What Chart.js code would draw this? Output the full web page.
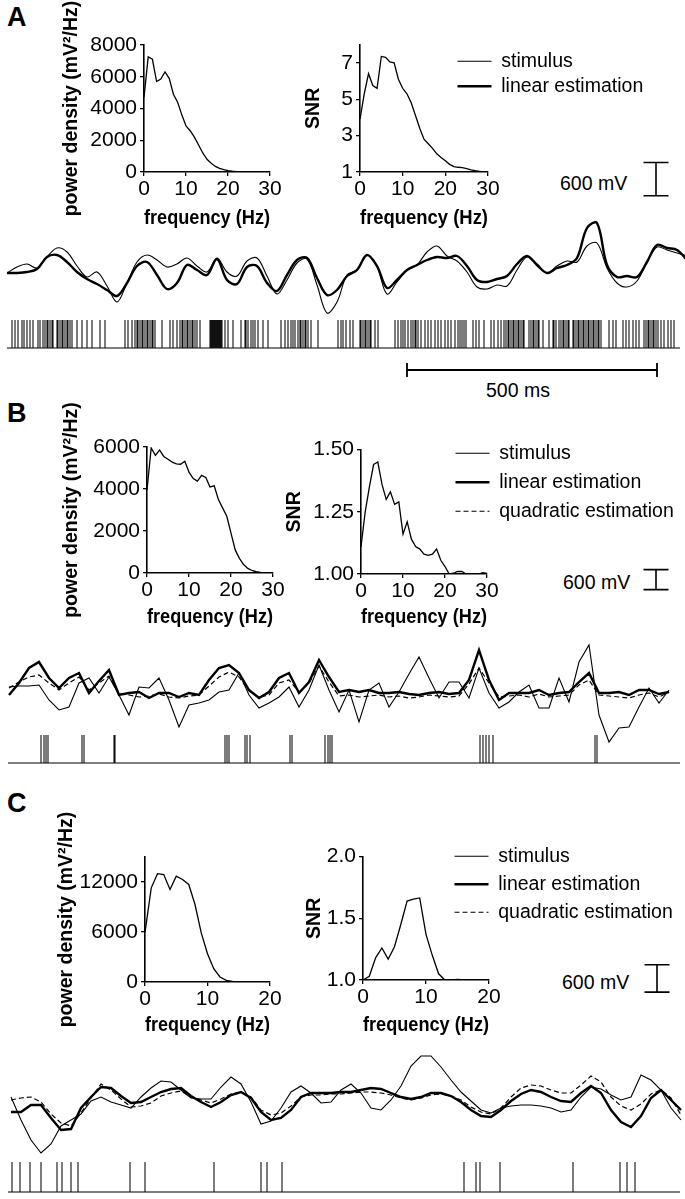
<!DOCTYPE html>
<html>
<head>
<meta charset="utf-8">
<script src="https://cdn.jsdelivr.net/npm/chart.js@4.4.1/dist/chart.umd.min.js"></script>
<style>
  html, body { margin: 0; padding: 0; background: #fff; }
  #page { position: relative; width: 685px; height: 1199px; overflow: hidden; background: #fff;
          font-family: 'Liberation Sans', Arial, Helvetica, sans-serif; color: #000; }
  canvas { position: absolute; }
  .lbl { position: absolute; white-space: nowrap; line-height: 24px; }
  .panel { font-weight: bold; font-size: 27px; }
  .note { font-size: 19.5px; }
</style>
</head>
<body>
<div id="page">
  <div class="lbl panel" style="left:7px; top:5px;">A</div>
  <div class="lbl panel" style="left:7px; top:401px;">B</div>
  <div class="lbl panel" style="left:7px; top:791px;">C</div>
  <div class="lbl note" style="left:560px; top:171px;">600 mV</div>
  <div class="lbl note" style="left:563px; top:570px;">600 mV</div>
  <div class="lbl note" style="left:562px; top:970px;">600 mV</div>
  <div class="lbl note" style="left:486px; top:378px;">500 ms</div>
</div>
<script>
Chart.defaults.font.family = "'Liberation Sans', Arial, Helvetica, sans-serif";
Chart.defaults.color = '#000';

// ---- spectra (frequency in Hz) ----
const freq30 = [0,1,2,3,4,5,6,7,8,9,10,11,12,13,14,15,16,17,18,19,20,21,22,23,24,25,26,27,28,29,30];
const freq20 = [0,1,2,3,4,5,6,7,8,9,10,11,12,13,14,15,16,17,18,19,20];

const powerA = [4700,7250,7100,5700,5850,6300,5900,4900,4400,3600,2900,2600,2200,1700,1200,800,550,350,230,150,90,50,20,10,0,0,0,0,0,0,0];
const snrA = [3.9,5.3,6.4,5.75,5.6,7.35,7.3,7.05,7.0,6.1,5.6,5.3,4.8,4.1,3.4,2.8,2.55,2.3,2.0,1.8,1.62,1.42,1.3,1.26,1.24,1.18,1.12,1.07,1.04,1.01,1.0];

const powerB = [3950,5950,5600,5850,5550,5420,5280,5200,5180,5320,4800,4500,4380,4650,4550,4100,4150,3500,3100,2700,1900,1100,700,400,220,120,60,30,10,0,0];
const snrB = [1.11,1.25,1.35,1.44,1.45,1.36,1.30,1.33,1.28,1.29,1.16,1.21,1.14,1.11,1.10,1.08,1.075,1.08,1.10,1.055,1.03,1.0,1.003,1.01,1.01,1.0,1.0,1.0,1.0,1.005,1.002];

const powerC = [5950,11300,13000,12900,11100,12700,12300,11700,9300,5900,3400,1600,600,200,60,20,0,0,0,0,0];
const snrC = [1.0,1.03,1.18,1.26,1.17,1.27,1.45,1.64,1.655,1.665,1.37,1.2,1.05,1.0,1.0,1.005,1.0,1.0,1.0,1.0,1.0];

// ---- tick labels ----
const xTicks30 = [0,10,20,30];
const xTicks20 = [0,10,20];
const powerATicks = [0,2000,4000,6000,8000];
const snrATicks = [1,3,5,7];
const powerBTicks = [0,2000,4000,6000];
const snrBTicks = [1.0,1.25,1.5];
const powerCTicks = [0,6000,12000];
const snrCTicks = [1.0,1.5,2.0];

// ---- voltage traces (mV), one sample every 20 ms ----
const sampleMs = 20;
const stimA = [0,108,162,90,288,450,378,126,-72,18,-234,-522,-180,198,324,234,108,162,270,126,18,270,18,-54,216,270,-54,-378,-126,180,252,-216,-720,-522,-36,54,324,108,-378,-162,54,144,378,486,306,216,18,-252,-288,-216,-234,54,288,162,0,126,216,198,486,540,90,-180,-252,-144,198,468,414,360,306];
const linA = [0,0,18,72,288,324,198,18,-108,-198,-306,-414,-180,126,198,-36,-288,-180,144,54,-36,252,-126,-198,108,126,-180,-324,-36,234,270,-90,-396,-306,-54,54,324,126,-270,-126,54,144,234,288,270,306,126,-126,-162,-108,-54,162,306,144,0,90,144,270,810,900,144,-72,-54,-72,198,504,450,414,234];

const stimB = [180,210,210,240,-210,-510,-420,300,450,0,480,-60,-660,180,150,450,-210,-1020,-360,-300,-210,30,90,600,-60,-450,-300,-120,180,-420,90,840,90,-570,90,-870,90,300,-420,30,570,1080,450,-150,330,330,-150,750,0,-450,-270,30,240,-450,-450,450,-270,930,1440,-660,-1470,-1050,-1020,-420,150,-300,90];
const linB = [-60,300,750,930,450,150,450,600,0,360,690,-60,0,30,-150,0,0,-120,0,-60,390,750,840,600,90,-150,30,450,600,0,330,990,480,30,90,30,90,0,0,30,-30,-60,0,30,-30,0,390,1290,390,-210,0,0,0,90,-60,0,30,330,600,0,0,30,-60,90,90,-30,30];
const quadB = [150,330,480,540,300,90,300,480,90,300,510,0,-60,-120,-90,-30,-120,-150,-90,-60,210,480,630,480,60,-120,-60,300,390,30,300,810,330,-90,-60,-120,-90,-60,-120,-90,-150,-120,-60,-90,-120,-90,270,750,300,-120,-90,-60,-120,-30,-120,-90,-60,240,390,-60,-90,-120,-150,-60,0,-120,30];

const stimC = [-88,-594,-1034,-1320,-1122,-726,-594,-462,-176,-88,-198,-264,-330,-88,110,264,242,66,-110,-132,-132,132,352,198,-198,-682,-616,-330,22,154,0,-220,-198,66,198,0,-330,-374,-154,154,594,814,814,572,286,22,-176,-374,-440,-330,-286,-264,-264,-286,-330,-418,-374,-88,132,88,-44,-154,-88,396,286,66,-330,-594];
const linC = [-418,-418,-264,-264,-550,-814,-792,-330,-88,132,110,-66,-220,-198,-88,22,88,110,-66,-198,-308,-198,-44,22,-110,-418,-594,-550,-374,-88,0,0,0,22,22,66,110,88,0,-88,-132,-88,0,0,-66,-198,-374,-506,-528,-374,-176,-22,66,22,-88,-176,-198,0,154,0,-374,-638,-748,-506,-110,66,-154,-374];
const quadC = [-154,-110,-88,-198,-462,-660,-726,-440,-110,198,66,-132,-308,-286,-220,-66,0,44,-88,-154,-220,-132,-22,22,-88,-374,-484,-440,-286,-88,-44,-44,-22,-22,0,22,22,0,-44,-110,-154,-110,-44,-22,-66,-154,-308,-418,-462,-330,-88,110,176,154,66,0,0,176,374,242,-88,-286,-374,-242,-22,66,-110,-484];

// ---- spike times (ms) ----
const spikesA = [10,16,22,30,34,40,46,52,62,66,72,76,80,82,86,90,92,100,102,106,110,112,116,120,122,126,130,140,150,160,170,186,196,
  236,242,250,256,260,262,266,270,272,276,280,282,286,290,292,296,310,
  326,332,340,346,350,352,356,360,362,366,370,372,376,380,386,
  406,408,410,412,414,416,418,420,422,424,426,428,430,436,442,
  452,468,476,478,482,488,492,496,502,512,522,
  548,556,562,568,572,576,582,586,588,592,596,598,602,608,622,
  662,668,672,678,686,692,706,708,712,716,718,722,726,728,736,742,
  776,782,788,792,796,802,808,812,816,818,822,828,836,842,848,856,862,868,876,882,888,896,902,906,910,914,918,
  932,938,944,954,
  968,974,982,988,994,998,1002,1004,1008,1012,1014,1018,1022,1024,1028,1032,1034,
  1044,1048,1052,1054,1058,1062,1064,1072,
  1084,1092,1094,1098,1104,1108,1112,1114,1118,1122,1124,
  1132,1134,1138,1142,1144,1148,1152,1154,1158,1162,1164,1168,1172,1174,1178,1182,1184,1188,
  1204,1212,1218,1232,1238,1244,1252,1258,1264,
  1274,1278,1282,1284,1288,1292,1294,1298,1302,1308,1314,1322,1328,1334];
const spikesB = [64,70,74,78,146,150,210,212,432,436,440,472,476,482,562,566,632,638,642,646,942,948,954,960,968,1172,1176];
const spikesC = [2,18,38,60,92,102,120,134,238,268,406,500,512,542,906,930,938,978,1124,1218,1232,1248];

// ---- scale bars ----
const scaleBarMv = 600;
const scaleBarMs = 500;

// ---------------------------------------------------------------
const page = document.getElementById('page');
const msPerPx = 2;

function canvasAt(left, top, right, bottom) {
  const c = document.createElement('canvas');
  c.width = right - left; c.height = bottom - top;
  c.style.left = left + 'px'; c.style.top = top + 'px';
  c.style.width = c.width + 'px'; c.style.height = c.height + 'px';
  page.appendChild(c);
  return c.getContext('2d');
}

function spectrumChart(g, freqs, values, yTitle, xTickVals, yTickVals, yMax, yFmt) {
  const right = g.R + 16;
  const ctx = canvasAt(g.left, g.top, right, g.bottom);
  const axis = (tickVals, fmt, title, pad) => ({
    type: 'linear',
    afterBuildTicks: s => { s.ticks = tickVals.map(v => ({ value: v })); },
    grid: { display: true, drawOnChartArea: false, drawTicks: true, tickLength: 4, color: '#000', lineWidth: 1.3 },
    border: { display: true, color: '#000', width: 1.6 },
    ticks: { color: '#000', font: { size: 21 }, padding: pad, autoSkip: false, maxRotation: 0, callback: fmt },
    title: { display: true, text: title, color: '#000', font: { size: 19.5, weight: 'bold' }, padding: { top: 4, bottom: 4 } }
  });
  const x = axis(xTickVals, v => String(v), 'frequency (Hz)', 1);
  x.min = xTickVals[0]; x.max = xTickVals[xTickVals.length - 1];
  x.afterFit = s => { s.height = g.bottom - g.B; };
  const y = axis(yTickVals, yFmt, yTitle, 3);
  y.min = yTickVals[0]; y.max = yMax;
  y.afterFit = s => { s.width = g.L - g.left; };
  new Chart(ctx, {
    type: 'line',
    data: { datasets: [{ data: freqs.map((f, i) => ({ x: f, y: values[i] })), borderColor: '#000', borderWidth: 1.3, pointRadius: 0, tension: 0, fill: false }] },
    options: {
      responsive: false, animation: false, events: [],
      layout: { padding: { left: 0, top: g.T - g.top, right: right - g.R, bottom: 0 } },
      plugins: { legend: { display: false }, tooltip: { enabled: false } },
      scales: { x, y }
    }
  });
}

function legendChart(left, top, pad, items) {
  const h = Math.round(items.length * (19.5 + pad) + pad);
  const ctx = canvasAt(left, top, 685, top + h);
  new Chart(ctx, {
    type: 'line',
    data: { datasets: items.map(s => ({ label: s.label, data: [], borderColor: '#000', backgroundColor: '#000', borderWidth: s.width, borderDash: s.dash || [] })) },
    options: {
      responsive: false, animation: false, events: [],
      layout: { padding: 0 },
      scales: { x: { display: false }, y: { display: false } },
      plugins: {
        tooltip: { enabled: false },
        legend: { position: 'chartArea', align: 'start',
          labels: { usePointStyle: true, pointStyle: 'line', pointStyleWidth: 34, boxHeight: 2, padding: pad, color: '#000', font: { size: 19.5 },
            generateLabels: chart => Chart.defaults.plugins.legend.labels.generateLabels(chart).map((it, i) =>
              Object.assign(it, { lineDash: chart.data.datasets[i].borderDash, lineWidth: chart.data.datasets[i].borderWidth })) } }
      }
    }
  });
}

function traceChart(p, series) {
  const ctx = canvasAt(0, p.top, 685, p.bottom);
  const datasets = series.map(s => ({
    label: s.label,
    data: s.values.map((v, i) => ({ x: i * sampleMs, y: v })),
    borderColor: '#000', borderWidth: s.width, borderDash: s.dash || [],
    pointRadius: 0, tension: p.tension, fill: false
  }));
  const c = p.barT, lo = p.barLo, hi = p.barLo + scaleBarMv, w = 25;
  datasets.push({
    data: [{x:c-w,y:lo},{x:c+w,y:lo},{x:c,y:null},{x:c,y:lo},{x:c,y:hi},{x:c,y:null},{x:c-w,y:hi},{x:c+w,y:hi}],
    borderColor: '#000', borderWidth: 1.6, pointRadius: 0, spanGaps: false, tension: 0
  });
  new Chart(ctx, {
    type: 'line',
    data: { datasets },
    options: {
      responsive: false, animation: false, events: [],
      layout: { padding: 0 },
      plugins: { legend: { display: false }, tooltip: { enabled: false } },
      scales: {
        x: { type: 'linear', display: false, min: -p.x0 * msPerPx, max: (685 - p.x0) * msPerPx },
        y: { display: false, min: (p.zeroPx - p.bottom) * p.mvPerPx, max: (p.zeroPx - p.top) * p.mvPerPx }
      }
    }
  });
}

function rasterChart(p, spikes) {
  const unit = p.basePx - p.tipPx;
  const ctx = canvasAt(0, p.top, 685, p.bottom);
  // each spike is a vertical stroke from the baseline (0) to 1
  const strokes = [];
  spikes.forEach(t => { strokes.push({ x: t, y: 0 }, { x: t, y: 1 }, { x: t, y: null }); });
  const datasets = [
    { data: strokes, showLine: true, spanGaps: false, borderColor: '#111', borderWidth: 1.1, pointRadius: 0 },
    { data: [{ x: p.baseFrom, y: 0 }, { x: p.baseTo, y: 0 }], showLine: true, borderColor: '#000', borderWidth: 1.2, pointRadius: 0 }
  ];
  if (p.msBar) {
    const lvl = -(p.msBar.px - p.basePx) / unit, cap = p.msBar.cap / unit;
    const a = p.msBar.from, b = p.msBar.from + scaleBarMs;
    datasets.push({ data: [{x:a,y:lvl},{x:b,y:lvl},{x:b,y:null},{x:a,y:lvl-cap},{x:a,y:lvl+cap},{x:a,y:null},{x:b,y:lvl-cap},{x:b,y:lvl+cap}],
      showLine: true, spanGaps: false, borderColor: '#000', borderWidth: 1.8, pointRadius: 0 });
  }
  new Chart(ctx, {
    type: 'scatter',
    data: { datasets },
    options: {
      responsive: false, animation: false, events: [],
      layout: { padding: 0 },
      plugins: { legend: { display: false }, tooltip: { enabled: false } },
      scales: {
        x: { type: 'linear', display: false, min: -p.x0 * msPerPx, max: (685 - p.x0) * msPerPx },
        y: { display: false, min: -(p.bottom - p.basePx) / unit, max: (p.basePx - p.top) / unit }
      }
    }
  });
}

const asInt = v => String(v);
const pdTitle = 'power density (mV\u00B2/Hz)';

// ---- panel A ----
spectrumChart({ L:144, T:45, R:270, B:172, left:56, top:0, bottom:234 }, freq30, powerA, pdTitle, xTicks30, powerATicks, 8000, asInt);
spectrumChart({ L:360, T:43, R:488, B:172, left:298, top:29, bottom:234 }, freq30, snrA, 'SNR', xTicks30, snrATicks, 8, asInt);
legendChart(452, 46, 5.5, [
  { label: 'stimulus', width: 1.1 },
  { label: 'linear estimation', width: 2.6 }
]);
traceChart({ top:150, bottom:325, zeroPx:273, mvPerPx:18, x0:7, tension:0.35, barT:1298, barLo:1390 }, [
  { label: 'stimulus', values: stimA, width: 1.1 },
  { label: 'linear estimation', values: linA, width: 2.4 }
]);
rasterChart({ top:315, bottom:400, basePx:348, tipPx:320, x0:7, baseFrom:0, baseTo:1346,
  msBar: { from: 800, px: 370, cap: 7 } }, spikesA);

// ---- panel B ----
spectrumChart({ L:147, T:447, R:273, B:573, left:56, top:400, bottom:633 }, freq30, powerB, pdTitle, xTicks30, powerBTicks, 6000, asInt);
spectrumChart({ L:361, T:448, R:487, B:574, left:279, top:434, bottom:633 }, freq30, snrB, 'SNR', xTicks30, snrBTicks, 1.5, v => v.toFixed(2));
legendChart(446, 434, 9.5, [
  { label: 'stimulus', width: 1.1 },
  { label: 'linear estimation', width: 2.6 },
  { label: 'quadratic estimation', width: 1.2, dash: [5, 3] }
]);
traceChart({ top:560, bottom:750, zeroPx:693, mvPerPx:30, x0:9, tension:0, barT:1294, barLo:3100 }, [
  { label: 'stimulus', values: stimB, width: 1.1 },
  { label: 'quadratic estimation', values: quadB, width: 1.2, dash: [5, 3] },
  { label: 'linear estimation', values: linB, width: 2.4 }
]);
rasterChart({ top:728, bottom:770, basePx:763, tipPx:735, x0:9, baseFrom:-2, baseTo:1342 }, spikesB);

// ---- panel C ----
spectrumChart({ L:145, T:857, R:270, B:982, left:51, top:805, bottom:1041 }, freq20, powerC, pdTitle, xTicks20, powerCTicks, 15000, asInt);
spectrumChart({ L:363, T:855, R:489, B:980, left:299, top:841, bottom:1041 }, freq20, snrC, 'SNR', xTicks20, snrCTicks, 2.0, v => v.toFixed(1));
legendChart(446, 838, 8.5, [
  { label: 'stimulus', width: 1.1 },
  { label: 'linear estimation', width: 2.6 },
  { label: 'quadratic estimation', width: 1.2, dash: [5, 3] }
]);
traceChart({ top:955, bottom:1160, zeroPx:1093, mvPerPx:22, x0:11, tension:0, barT:1292, barLo:2220 }, [
  { label: 'stimulus', values: stimC, width: 1.1 },
  { label: 'quadratic estimation', values: quadC, width: 1.2, dash: [5, 3] },
  { label: 'linear estimation', values: linC, width: 2.4 }
]);
rasterChart({ top:1155, bottom:1199, basePx:1192, tipPx:1162, x0:11, baseFrom:-6, baseTo:1338 }, spikesC);
</script>
</body>
</html>
